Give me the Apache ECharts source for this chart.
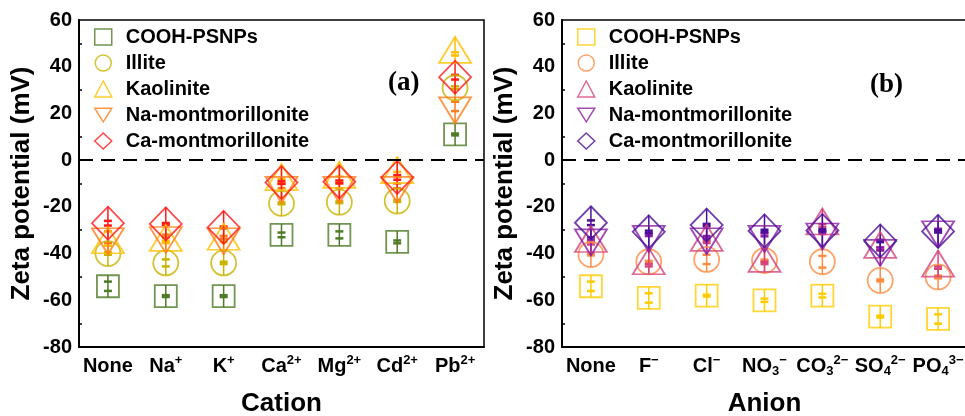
<!DOCTYPE html>
<html>
<head>
<meta charset="utf-8">
<script src="https://cdn.jsdelivr.net/npm/echarts@6/dist/echarts.min.js"></script>
<style>
  html, body { margin: 0; padding: 0; background: #fff; }
  #chart { width: 965px; height: 416px; }
</style>
</head>
<body>
<div id="chart"></div>
<script>
// categories (rich text for super/subscripts)
const cations = ['None', 'Na{sup|+}', 'K{sup|+}', 'Ca{sup|2+}', 'Mg{sup|2+}', 'Cd{sup|2+}', 'Pb{sup|2+}'];
const anions = ['None', 'F{sup|−}', 'Cl{sup|−}', 'NO{sub|3}{sup|−}', 'CO{sub|3}{sup|2−}', 'SO{sub|4}{sup|2−}', 'PO{sub|4}{sup|3−}'];
const seriesNames = ['COOH-PSNPs', 'Illite', 'Kaolinite', 'Na-montmorillonite', 'Ca-montmorillonite'];

// (a) cations - zeta potential (mV)
const catCOOH = [-54, -58.2, -58.2, -32, -32, -35, 11];
const catIllite = [-40, -44, -44, -18.5, -18, -17.5, 31];
const catKaol = [-36, -35, -34.5, -9, -8, -6, 45.5];
const catNaMt = [-33, -32.5, -33, -11, -11, -11, 23];
const catCaMt = [-27, -27.3, -28.8, -9.6, -9.3, -7.4, 35.5];
const catCOOHErr = [2, 0.4, 0.4, 1, 1.5, 0.6, 0.4];
const catIlliteErr = [0.5, 1.5, 0.5, 0.4, 0.4, 0.4, 0.6];
const catKaolErr = [0.6, 0.5, 0.6, 1, 1, 1, 0.7];
const catNaMtErr = [2.5, 0.6, 0.6, 1, 1, 1, 2];
const catCaMtErr = [1, 0.4, 0.4, 0.6, 0.6, 1, 1];

// (b) anions - zeta potential (mV)
const aniCOOH = [-54, -59, -58, -60, -58, -67, -68];
const aniIllite = [-40.4, -43.5, -42.5, -43, -43.5, -51.5, -50];
const aniKaol = [-35.5, -45, -35, -44, -28, -38, -46];
const aniNaMt = [-33.5, -32, -33, -32, -31, -38, -30];
const aniCaMt = [-26.8, -30.7, -27.8, -30.3, -30.1, -34.6, -30.5];
const aniCOOHErr = [2, 2, 0.4, 0.7, 0.8, 0.4, 2];
const aniIlliteErr = [0.4, 0.4, 2, 0.4, 2.5, 0.4, 0.6];
const aniKaolErr = [0.6, 0.5, 0.5, 0.5, 0.6, 0.6, 0.5];
const aniNaMtErr = [0.5, 0.5, 0.5, 0.6, 0.6, 0.6, 0.6];
const aniCaMtErr = [1, 0.5, 0.5, 0.5, 0.5, 0.5, 0.5];

const yTicks = { min: -80, max: 60, interval: 20 };

const colorsA = ['#4f7b26', '#c9b300', '#ffbf00', '#ff7d1a', '#ff1a1a'];
const colorsB = ['#ffcc00', '#ff8c42', '#d4457c', '#8c1ea3', '#4a0f99'];

const font = "'Liberation Sans', Arial, sans-serif";
const downTri = 'path://M0,0L2,0L1,1.6Z';
const marks = [
    { symbol: 'rect', size: [22, 22], offY: 0, icon: 'rect' },
    { symbol: 'circle', size: 25, offY: 0, icon: 'circle' },
    { symbol: 'triangle', size: [32, 26], offY: -4, icon: 'triangle' },
    { symbol: downTri, size: [32, 26], offY: 4, icon: downTri },
    { symbol: 'diamond', size: [32, 33], offY: 0, icon: 'diamond' },
];

function errBars(gi, vals, errs, color, mk) {
    const h = Array.isArray(mk.size) ? mk.size[1] : mk.size;
    return {
        type: 'custom',
        xAxisIndex: gi,
        yAxisIndex: gi,
        silent: true,
        data: vals.map((v, i) => [i, v, errs[i]]),
        renderItem: (params, api) => {
            const c = api.coord([api.value(0), api.value(1)]);
            const hi = api.coord([api.value(0), api.value(1) + api.value(2)]);
            const lo = api.coord([api.value(0), api.value(1) - api.value(2)]);
            const cy = c[1] + mk.offY;
            return {
                type: 'group',
                children: [
                    { type: 'line', shape: { x1: c[0], y1: cy - h / 2, x2: c[0], y2: cy + h / 2 }, style: { stroke: color, lineWidth: 1.5 } },
                    { type: 'line', shape: { x1: c[0] - 4, y1: hi[1], x2: c[0] + 4, y2: hi[1] }, style: { stroke: color, lineWidth: 2.5 } },
                    { type: 'line', shape: { x1: c[0] - 4, y1: lo[1], x2: c[0] + 4, y2: lo[1] }, style: { stroke: color, lineWidth: 2.5 } },
                ],
            };
        },
    };
}

function scatter(gi, prefix, k, vals, color) {
    const mk = marks[k];
    return {
        type: 'scatter',
        name: prefix + seriesNames[k],
        xAxisIndex: gi,
        yAxisIndex: gi,
        data: vals,
        symbol: mk.symbol,
        symbolSize: mk.size,
        symbolOffset: [0, mk.offY],
        itemStyle: { color: 'rgba(255,255,255,0)', borderColor: color, borderWidth: 1.8 },
        emphasis: { disabled: true },
        silent: true,
    };
}

const setA = [catCOOH, catIllite, catKaol, catNaMt, catCaMt];
const errA = [catCOOHErr, catIlliteErr, catKaolErr, catNaMtErr, catCaMtErr];
const setB = [aniCOOH, aniIllite, aniKaol, aniNaMt, aniCaMt];
const errB = [aniCOOHErr, aniIlliteErr, aniKaolErr, aniNaMtErr, aniCaMtErr];

const series = [];
[[setA, errA, colorsA, 'a:'], [setB, errB, colorsB, 'b:']].forEach(([set, errs, cols, prefix], gi) => {
    // dashed zero line
    series.push({
        type: 'line', xAxisIndex: gi, yAxisIndex: gi, data: [], silent: true,
        markLine: {
            silent: true, symbol: ['none', 'none'], label: { show: false },
            lineStyle: { color: '#000', type: [14, 8], width: 2 },
            data: [{ yAxis: 0 }],
        },
    });
    set.forEach((vals, k) => {
        series.push(errBars(gi, vals, errs[k], cols[k], marks[k]));
        series.push(scatter(gi, prefix, k, vals, cols[k]));
    });
});

const rich = {
    sup: { fontSize: 13, fontWeight: 'bold', fontFamily: font, color: '#000', verticalAlign: 'top', lineHeight: 13 },
    sub: { fontSize: 13, fontWeight: 'bold', fontFamily: font, color: '#000', verticalAlign: 'bottom', lineHeight: 13 },
};

function xAxis(gi, cats, name) {
    return {
        type: 'category', gridIndex: gi, data: cats,
        name, nameLocation: 'middle', nameGap: 44,
        nameTextStyle: { fontSize: 26, fontWeight: 'bold', fontFamily: font, color: '#000' },
        axisLine: { onZero: false, lineStyle: { color: '#000', width: 2 } },
        axisTick: { inside: true, alignWithLabel: true, length: 5, lineStyle: { width: 1.5 } },
        axisLabel: { interval: 0, margin: 7, fontSize: 20, lineHeight: 24, fontWeight: 'bold', fontFamily: font, color: '#000', rich },
        splitLine: { show: false },
    };
}

function yAxis(gi) {
    return {
        type: 'value', gridIndex: gi, ...yTicks,
        name: 'Zeta potential (mV)', nameLocation: 'middle', nameGap: 44,
        nameTextStyle: { fontSize: 26, fontWeight: 'bold', fontFamily: font, color: '#000' },
        axisLine: { show: true, onZero: false, lineStyle: { color: '#000', width: 2 } },
        axisTick: { inside: true, length: 5, lineStyle: { width: 1.5 } },
        minorTick: { show: true, splitNumber: 2, length: 3, lineStyle: { color: '#000', width: 1.5 } },
        axisLabel: { margin: 7, fontSize: 20, fontWeight: 'bold', fontFamily: font, color: '#000' },
        splitLine: { show: false },
    };
}

function legend(left, prefix, cols) {
    return {
        left, top: 27, orient: 'vertical', padding: 0,
        itemWidth: 17, itemHeight: 16, itemGap: 6,
        selectedMode: false,
        formatter: (n) => n.slice(2),
        textStyle: { fontSize: 20, lineHeight: 20, fontWeight: 'bold', fontFamily: font, color: '#000', padding: [0, 0, 0, 9] },
        data: seriesNames.map((n, k) => ({
            name: prefix + n,
            icon: marks[k].icon,
            itemStyle: { color: 'rgba(255,255,255,0)', borderColor: cols[k], borderWidth: 1.5 },
        })),
    };
}

const chart = echarts.init(document.getElementById('chart'));
chart.setOption({
    animation: false,
    backgroundColor: '#fff',
    title: [
        { text: '(a)', left: 388, top: 70, padding: 0, textStyle: { fontSize: 27, fontWeight: 'bold', fontFamily: "'Liberation Serif', 'Times New Roman', serif", color: '#000' } },
        { text: '(b)', left: 870, top: 72, padding: 0, textStyle: { fontSize: 27, fontWeight: 'bold', fontFamily: "'Liberation Serif', 'Times New Roman', serif", color: '#000' } },
    ],
    legend: [legend(94, 'a:', colorsA), legend(577, 'b:', colorsB)],
    grid: [
        { left: 79, top: 20, width: 405, height: 327, outerBoundsMode: 'none', show: true, borderColor: '#000', borderWidth: 1.5 },
        { left: 562, top: 20, width: 405, height: 327, outerBoundsMode: 'none', show: true, borderColor: '#000', borderWidth: 1.5 },
    ],
    xAxis: [xAxis(0, cations, 'Cation'), xAxis(1, anions, 'Anion')],
    yAxis: [yAxis(0), yAxis(1)],
    series,
});
</script>
</body>
</html>
